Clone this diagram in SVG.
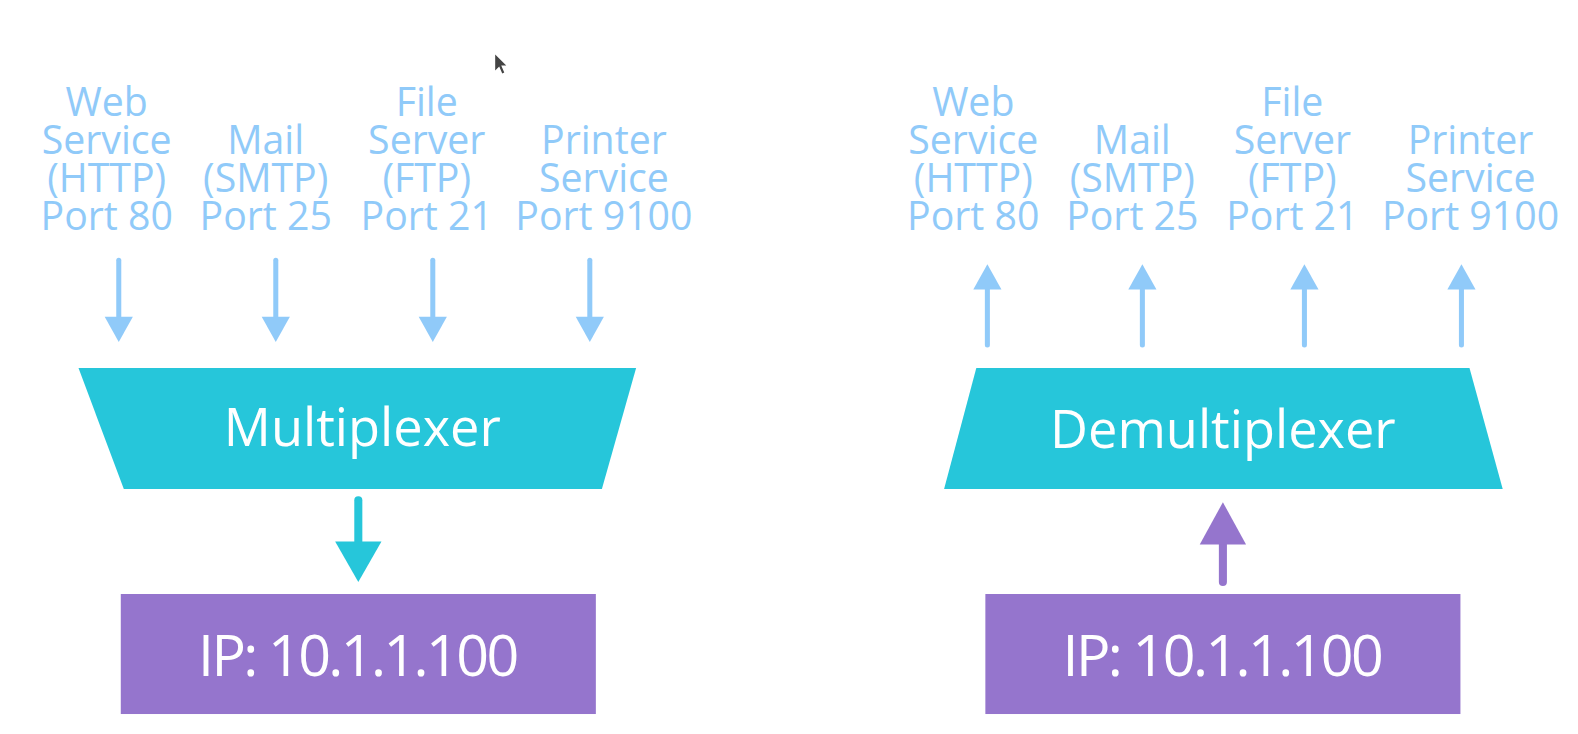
<svg xmlns="http://www.w3.org/2000/svg" width="1578" height="734" viewBox="0 0 1578 734">
<style>
.lbl{font-family:"Open Sans","Liberation Sans",sans-serif;font-size:39px;fill:#90CAF9;text-anchor:middle}
.big{font-family:"Open Sans","Liberation Sans",sans-serif;fill:#FFFFFF;text-anchor:middle}
.shaft{stroke:#90CAF9;stroke-width:5;stroke-linecap:round;fill:none}
.head{fill:#90CAF9}
.teal{fill:#26C6DA}
.purple{fill:#9575CD}
</style>
<rect width="1578" height="734" fill="#FFFFFF"/>
<g transform="scale(1.0065,1.0085)">
<g id="cursor"><polygon points="492,54 492,70 496,66 499,73 501,72 498,65 503,65" fill="#444"/></g>

<g id="left-services">
<text class="lbl" x="106" y="115"><tspan x="106">Web</tspan><tspan x="106" dy="37.7">Service</tspan><tspan x="106" dy="37.7">(HTTP)</tspan><tspan x="106" dy="37.7">Port 80</tspan></text>
<text class="lbl" x="264" y="153"><tspan x="264">Mail</tspan><tspan x="264" dy="37.7">(SMTP)</tspan><tspan x="264" dy="37.7">Port 25</tspan></text>
<text class="lbl" x="424" y="115"><tspan x="424">File</tspan><tspan x="424" dy="37.7">Server</tspan><tspan x="424" dy="37.7">(FTP)</tspan><tspan x="424" dy="37.7">Port 21</tspan></text>
<text class="lbl" x="600" y="153"><tspan x="600">Printer</tspan><tspan x="600" dy="37.7">Service</tspan><tspan x="600" dy="37.7">Port 9100</tspan></text>
</g>

<g id="right-services">
<text class="lbl" x="967" y="115"><tspan x="967">Web</tspan><tspan x="967" dy="37.7">Service</tspan><tspan x="967" dy="37.7">(HTTP)</tspan><tspan x="967" dy="37.7">Port 80</tspan></text>
<text class="lbl" x="1125" y="153"><tspan x="1125">Mail</tspan><tspan x="1125" dy="37.7">(SMTP)</tspan><tspan x="1125" dy="37.7">Port 25</tspan></text>
<text class="lbl" x="1284" y="115"><tspan x="1284">File</tspan><tspan x="1284" dy="37.7">Server</tspan><tspan x="1284" dy="37.7">(FTP)</tspan><tspan x="1284" dy="37.7">Port 21</tspan></text>
<text class="lbl" x="1461" y="153"><tspan x="1461">Printer</tspan><tspan x="1461" dy="37.7">Service</tspan><tspan x="1461" dy="37.7">Port 9100</tspan></text>
</g>

<g id="multiplexer">
<polygon class="teal" points="78,365 632,365 598,485 123,485"/>
<text class="big" x="360" y="442" font-size="52">Multiplexer</text>
</g>

<g id="demultiplexer">
<polygon class="teal" points="970,365 1460,365 1493,485 938,485"/>
<text class="big" x="1215" y="444" font-size="52">Demultiplexer</text>
</g>

<g id="ip-left">
<rect class="purple" x="120" y="589" width="472" height="119"/>
<text class="big" x="355" y="670" font-size="57" letter-spacing="-2.6">IP: 10.1.1.100</text>
</g>

<g id="ip-right">
<rect class="purple" x="979" y="589" width="472" height="119"/>
<text class="big" x="1214" y="670" font-size="57" letter-spacing="-2.6">IP: 10.1.1.100</text>
</g>

<g id="connectors">
<line class="shaft" x1="118" y1="258" x2="118" y2="318"/>
<polygon class="head" points="104,314 132,314 118,339"/>
<line class="shaft" x1="274" y1="258" x2="274" y2="318"/>
<polygon class="head" points="260,314 288,314 274,339"/>
<line class="shaft" x1="430" y1="258" x2="430" y2="318"/>
<polygon class="head" points="416,314 444,314 430,339"/>
<line class="shaft" x1="586" y1="258" x2="586" y2="318"/>
<polygon class="head" points="572,314 600,314 586,339"/>

<line class="shaft" x1="981" y1="283" x2="981" y2="342"/>
<polygon class="head" points="967,287 995,287 981,262"/>
<line class="shaft" x1="1135" y1="283" x2="1135" y2="342"/>
<polygon class="head" points="1121,287 1149,287 1135,262"/>
<line class="shaft" x1="1296" y1="283" x2="1296" y2="342"/>
<polygon class="head" points="1282,287 1310,287 1296,262"/>
<line class="shaft" x1="1452" y1="283" x2="1452" y2="342"/>
<polygon class="head" points="1438,287 1466,287 1452,262"/>

<line x1="356" y1="496" x2="356" y2="542" stroke="#26C6DA" stroke-width="8" stroke-linecap="round"/>
<polygon class="teal" points="333,537 379,537 356,577"/>

<line x1="1215" y1="536" x2="1215" y2="577" stroke="#9575CD" stroke-width="8" stroke-linecap="round"/>
<polygon class="purple" points="1192,540 1238,540 1215,498"/>
</g>
</g>
</svg>
